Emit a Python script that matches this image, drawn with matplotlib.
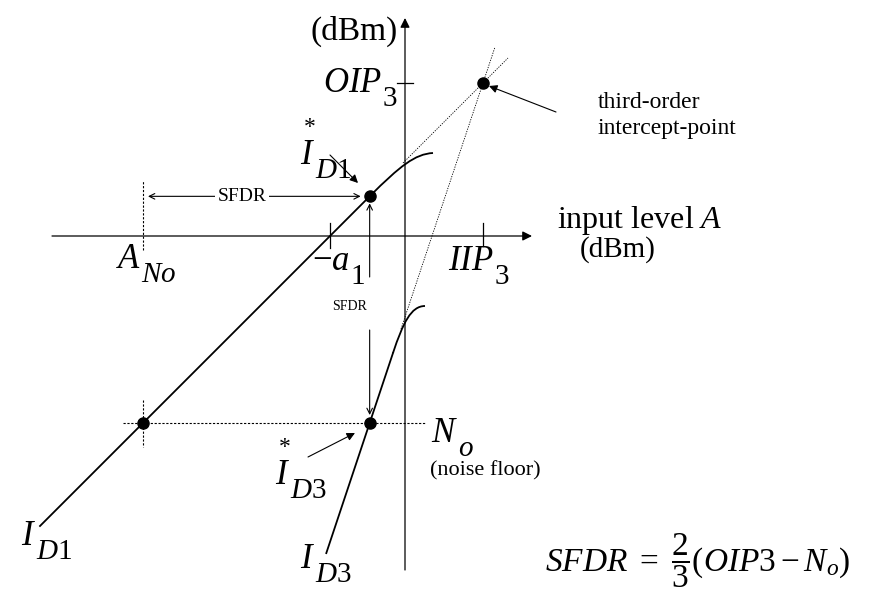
import matplotlib
matplotlib.use('Agg')
import matplotlib.pyplot as plt
from matplotlib.path import Path
from matplotlib.patches import PathPatch

plt.rcParams['font.family'] = 'Liberation Serif'
plt.rcParams['mathtext.fontset'] = 'custom'
plt.rcParams['mathtext.rm'] = 'Liberation Serif'
plt.rcParams['mathtext.it'] = 'Liberation Serif:italic'
plt.rcParams['mathtext.bf'] = 'Liberation Serif:bold'

# operating levels (dBm, arbitrary scale)
a1 = 7.5          # I_D1 crosses the input axis at -a1
iip3 = 7.8        # input third-order intercept
noise_floor = -18.7
oip3 = iip3 + a1
id3_offset = oip3 - 3 * iip3      # I_D3 = 3*A + id3_offset

a_no = noise_floor - a1                       # input where I_D1 hits the floor
a_d3 = (noise_floor - id3_offset) / 3         # input where I_D3 hits the floor
id1_star = a_d3 + a1

# line extents
id1_x = [-36.5, a_d3]
id3_x = [-7.87, -1.2]
id1_dot_x = [-0.2, 10.3]
id3_dot_x = [-0.4, 9.0]

# compression curves (bezier control points)
id1_bend = [(a_d3, id1_star), (-0.5, 7.0), (1.0, 8.2), (2.8, 8.3)]
id3_bend = [(-1.2, -3 * 1.2 + id3_offset), (-0.2, -8.7), (0.6, -7.0), (2.0, -7.0)]


def id1(x):
    return x + a1


def id3(x):
    return 3 * x + id3_offset


fig = plt.figure(figsize=(8.69, 5.93), dpi=100)
ax = fig.add_axes([0, 0, 1, 1])
ax.set_xlim(-40.5, 46.4)
ax.set_ylim(-35.7, 23.6)
ax.axis('off')

arrow_kw = dict(arrowstyle='-|>', color='black', lw=0.9, mutation_scale=14,
                shrinkA=0, shrinkB=0)
# axes
ax.annotate('', xy=(12.7, 0), xytext=(-35.3, 0), arrowprops=arrow_kw)
ax.annotate('', xy=(0, 21.8), xytext=(0, -33.4), arrowprops=arrow_kw)

# ticks
ax.plot([-0.8, 0.8], [oip3, oip3], color='black', lw=0.9)
ax.plot([-a1, -a1], [-1.2, 1.3], color='black', lw=0.9)
ax.plot([iip3, iip3], [-1.0, 1.3], color='black', lw=0.9)

# fundamental and third-order lines
ax.plot(id1_x, [id1(x) for x in id1_x], color='black', lw=1.3)
ax.plot(id3_x, [id3(x) for x in id3_x], color='black', lw=1.3)
for pts in (id1_bend, id3_bend):
    path = Path(pts, [Path.MOVETO, Path.CURVE4, Path.CURVE4, Path.CURVE4])
    ax.add_patch(PathPatch(path, facecolor='none', edgecolor='black', lw=1.3))

# extrapolations
ax.plot(id1_dot_x, [id1(x) for x in id1_dot_x], color='black', lw=0.6, ls=(0, (1.5, 1.5)))
ax.plot(id3_dot_x, [id3(x) for x in id3_dot_x], color='black', lw=0.6, ls=(0, (1.5, 1.5)))

# noise floor and A_No guide lines
ax.plot([a_no - 2.0, 2.0], [noise_floor, noise_floor], color='black', lw=0.8, ls=(0, (2, 1.5)))
ax.plot([a_no, a_no], [noise_floor + 2.3, noise_floor - 2.4], color='black', lw=0.8, ls=(0, (2, 1.5)))
ax.plot([a_no, a_no], [-1.4, 5.5], color='black', lw=0.8, ls=(0, (2, 1.5)))

# marked points
ax.plot([a_d3, a_d3, a_no, iip3], [id1_star, noise_floor, noise_floor, oip3],
        'o', color='black', markersize=8)

# SFDR arrows
thin = dict(arrowstyle='->', color='black', lw=0.8, mutation_scale=10, shrinkA=0, shrinkB=0)
ax.annotate('', xy=(a_no + 0.5, id1_star), xytext=(-16.3, id1_star), arrowprops=thin)
ax.annotate('', xy=(a_d3 - 0.9, id1_star), xytext=(-16.3, id1_star), arrowprops=thin)
ax.text(-16.3, id1_star, 'SFDR', ha='center', va='center', fontsize=14,
        bbox=dict(facecolor='white', edgecolor='none', pad=2))
ax.annotate('', xy=(a_d3, id1_star - 0.7), xytext=(a_d3, -4.1), arrowprops=thin)
ax.annotate('', xy=(a_d3, noise_floor + 0.8), xytext=(a_d3, -9.4), arrowprops=thin)
ax.text(-5.5, -7.1, 'SFDR', ha='center', va='center', fontsize=10)

# pointer arrows
ptr = dict(arrowstyle='-|>', color='black', lw=0.8, mutation_scale=12, shrinkA=0, shrinkB=0)
ax.annotate('', xy=(-4.7, 5.3), xytext=(-7.5, 8.1), arrowprops=ptr)
ax.annotate('', xy=(-5.0, -19.7), xytext=(-9.7, -22.1), arrowprops=ptr)
ax.annotate('', xy=(8.4, 15.0), xytext=(15.1, 12.4), arrowprops=ptr)


def symbol(x, y, main, sub, sup='', size=25, sub_size=21):
    ax.text(x, y, main, ha='right', va='baseline', fontsize=size)
    ax.annotate(sub, (x, y), xytext=(0, -10), textcoords='offset points',
                ha='left', va='baseline', fontsize=sub_size)
    if sup:
        ax.annotate(sup, (x, y), xytext=(-8, 22), textcoords='offset points',
                    ha='left', va='baseline', fontsize=17)


symbol(-26.4, -3.2, '$A$', '$No$')
symbol(-5.5, -3.4, r'$-a$', '$1$')
symbol(8.9, -3.4, '$IIP$', '$3$')
symbol(-2.3, 14.4, '$OIP$', '$3$')
symbol(-9.0, 7.2, '$I$', '$D1$', '*')
symbol(-11.5, -24.8, '$I$', '$D3$', '*')
symbol(5.3, -20.6, '$N$', '$o$')
symbol(-36.9, -30.9, '$I$', '$D1$')
symbol(-9.0, -33.2, '$I$', '$D3$')

ax.text(-0.7, 19.6, '(dBm)', ha='right', va='baseline', fontsize=24)
ax.text(15.2, 0.8, 'input level $A$', ha='left', va='baseline', fontsize=23)
ax.text(17.5, -2.1, '(dBm)', ha='left', va='baseline', fontsize=21)
ax.text(19.3, 12.8, 'third-order', ha='left', va='baseline', fontsize=17)
ax.text(19.3, 10.2, 'intercept-point', ha='left', va='baseline', fontsize=17)
ax.text(2.5, -23.9, '(noise floor)', ha='left', va='baseline', fontsize=16)
ax.text(14.0, -33.6, r'$SFDR\ =\ \dfrac{2}{3}(OIP3-N_o)$', ha='left', va='baseline', fontsize=24)

fig.savefig('out.png', dpi=100)
